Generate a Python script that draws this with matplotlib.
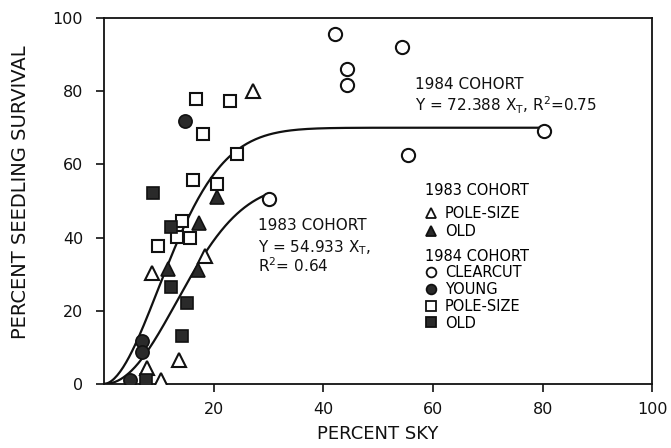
import numpy as np
import matplotlib
matplotlib.use("Agg")
import matplotlib.pyplot as plt
from matplotlib.lines import Line2D

# 1984 cohort
clearcut_x = [42.2, 54.3, 44.3, 44.3, 80.3, 55.4, 30.1]
clearcut_y = [95.6, 92.0, 86.0, 81.7, 69.1, 62.6, 50.5]
young_x = [14.8, 7.0, 7.0, 4.7]
young_y = [71.9, 11.6, 8.6, 1.0]
pole84_x = [16.8, 23.0, 18.0, 24.2, 16.2, 20.6, 14.2, 13.3, 15.6, 9.9]
pole84_y = [77.9, 77.4, 68.3, 62.8, 55.6, 54.5, 44.4, 40.1, 40.0, 37.7]
old84_x = [8.9, 12.2, 12.3, 15.2, 14.3, 7.7]
old84_y = [52.1, 42.8, 26.4, 22.2, 13.2, 1.0]

# 1983 cohort
pole83_x = [27.1, 18.4, 8.7, 13.6, 7.8, 10.4]
pole83_y = [80.1, 35.0, 30.2, 6.6, 4.3, 1.0]
old83_x = [20.7, 17.4, 11.7, 17.1]
old83_y = [51.2, 43.9, 31.3, 31.1]

# fitted curves: Y = A * X_T,  X_T = 1 - exp(-(x/b)^c)
fit84 = dict(A=70.0, b=15.0, c=1.85, xmax=80.3)
fit83 = dict(A=54.933, b=18.0, c=2.1, xmax=30.1)

xticks = [20, 40, 60, 80, 100]
yticks = [0, 20, 40, 60, 80, 100]

INK = "#111111"
FILL = "#2a2a2a"


def curve(p):
    x = np.linspace(0, p["xmax"], 300)
    return x, p["A"] * (1 - np.exp(-(x / p["b"]) ** p["c"]))


fig = plt.figure(figsize=(6.71, 4.48), dpi=100)
ax = fig.add_axes([0.155, 0.143, 0.817, 0.817])

for p in (fit84, fit83):
    cx, cy = curve(p)
    ax.plot(cx, cy, color=INK, lw=1.6, zorder=2)

ms = 9.5
ax.plot(clearcut_x, clearcut_y, "o", ms=ms, mfc="white", mec=INK, mew=1.5, zorder=3)
ax.plot(pole84_x, pole84_y, "s", ms=ms - 0.5, mfc="white", mec=INK, mew=1.5, zorder=3)
ax.plot(pole83_x, pole83_y, "^", ms=ms + 1, mfc="white", mec=INK, mew=1.5, zorder=3)
ax.plot(young_x, young_y, "o", ms=ms, mfc=FILL, mec=INK, mew=1.2, zorder=4)
ax.plot(old84_x, old84_y, "s", ms=ms - 0.5, mfc=FILL, mec=INK, mew=1.2, zorder=4)
ax.plot(old83_x, old83_y, "^", ms=ms + 1, mfc=FILL, mec=INK, mew=1.2, zorder=4)

ax.set_xlim(0, 100)
ax.set_ylim(0, 100)
ax.set_xticks(xticks)
ax.set_yticks(yticks)
ax.tick_params(direction="out", length=6, width=1.2, colors=INK, labelsize=11.5, pad=7)
ax.tick_params(axis="y", pad=9)
for s in ax.spines.values():
    s.set_linewidth(1.3)
    s.set_color(INK)

ax.set_xlabel("PERCENT SKY", fontsize=13, color=INK, labelpad=6)
ax.set_ylabel("PERCENT SEEDLING SURVIVAL", fontsize=14, color=INK)
ax.yaxis.set_label_coords(-0.135, 0.525)

tfs = 11
ax.text(56.8, 81.7, "1984 COHORT", fontsize=tfs, color=INK, va="center")
ax.text(56.8, 76.2, r"Y = 72.388 X$_\mathrm{T}$, R$^2$=0.75", fontsize=tfs, color=INK, va="center")
ax.text(28.1, 43.4, "1983 COHORT", fontsize=tfs, color=INK, va="center")
ax.text(28.1, 37.2, r"Y = 54.933 X$_\mathrm{T}$,", fontsize=tfs, color=INK, va="center")
ax.text(28.1, 32.2, r"R$^2$= 0.64", fontsize=tfs, color=INK, va="center")


def mk(marker, fill, size=7):
    return Line2D([], [], ls="none", marker=marker, ms=size, mfc=fill, mec=INK, mew=1.3)


leg_kw = dict(frameon=False, loc="upper left", alignment="left", fontsize=10.5,
              title_fontsize=10.5, borderpad=0, handlelength=0.8, handletextpad=0.6,
              borderaxespad=0)
leg1 = ax.legend([mk("^", "white"), mk("^", FILL)], ["POLE-SIZE", "OLD"],
                 title="1983 COHORT", bbox_to_anchor=(0.585, 0.55), labelspacing=0.22, **leg_kw)
leg1._legend_box.sep = 6
ax.add_artist(leg1)
leg2 = ax.legend([mk("o", "white"), mk("o", FILL), mk("s", "white"), mk("s", FILL)],
                 ["CLEARCUT", "YOUNG", "POLE-SIZE", "OLD"],
                 title="1984 COHORT", bbox_to_anchor=(0.585, 0.37), labelspacing=0.12, **leg_kw)

fig.savefig("out.png", dpi=100)
